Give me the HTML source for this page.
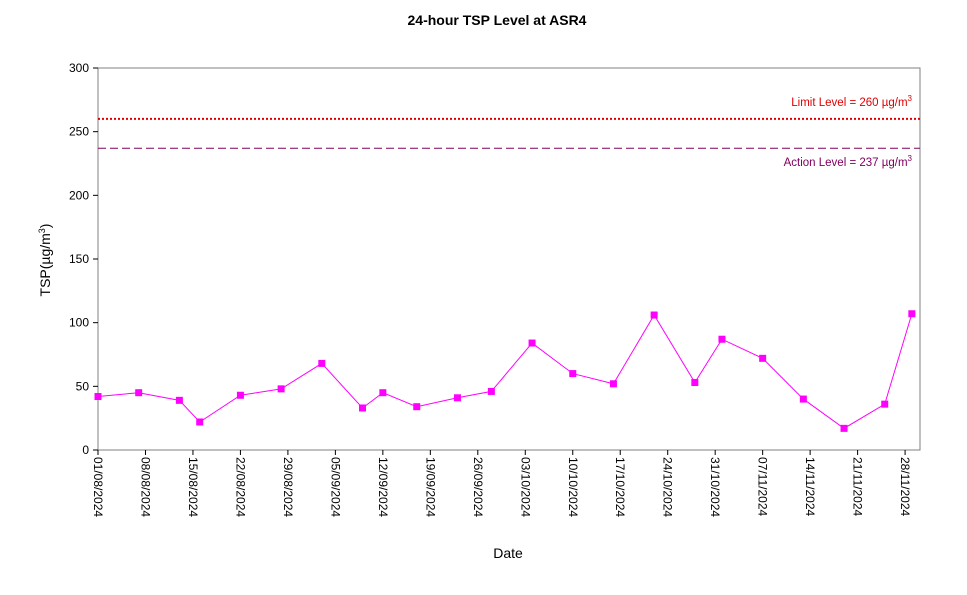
<!DOCTYPE html>
<html><head><meta charset="utf-8"><style>
body{margin:0;background:#fff;font-family:"Liberation Sans",Arial,sans-serif}
svg text{font-family:"Liberation Sans",Arial,sans-serif}
</style></head><body>
<svg id="chart" width="967" height="590" xmlns="http://www.w3.org/2000/svg">
<rect width="967" height="590" fill="#fff"/>
<text x="497" y="25" text-anchor="middle" font-size="14" font-weight="bold">24-hour TSP Level at ASR4</text>
<rect x="98" y="68" width="822" height="382" fill="none" stroke="#808080" stroke-width="1"/>
<g id="yaxis"></g>
<g id="xaxis"></g>
<text transform="translate(50,260) rotate(-90)" text-anchor="middle" font-size="14">TSP(µg/m<tspan font-size="9" dy="-5">3</tspan><tspan dy="5">)</tspan></text>
<text x="508" y="558" text-anchor="middle" font-size="14">Date</text>
<g id="refs"></g>
<g id="series"></g>
</svg>
<script>
const yTicks=[0,50,100,150,200,250,300];
const xTickLabels=["01/08/2024","08/08/2024","15/08/2024","22/08/2024","29/08/2024","05/09/2024","12/09/2024","19/09/2024","26/09/2024","03/10/2024","10/10/2024","17/10/2024","24/10/2024","31/10/2024","07/11/2024","14/11/2024","21/11/2024","28/11/2024"];
const sampleDays=[0,6,12,15,21,27,33,39,42,47,53,58,64,70,76,82,88,92,98,104,110,116,120];
const tspValues=[42,45,39,22,43,48,68,33,45,34,41,46,84,60,52,106,53,87,72,40,17,36,107];
const limitLevel=260, actionLevel=237;
const NS="http://www.w3.org/2000/svg";
const X0=98,X1=920,Y0=450,Y1=68,DMAX=121.2,VMAX=300;
const xs=d=>X0+(d/DMAX)*(X1-X0);
const ys=v=>Y0-(v/VMAX)*(Y0-Y1);
function mk(t,a,p){const e=document.createElementNS(NS,t);for(const k in a)e.setAttribute(k,a[k]);p.appendChild(e);return e;}
const ya=document.getElementById('yaxis');
yTicks.forEach(v=>{const y=ys(v);
const l=mk('line',{x1:X0-5,x2:X0,y1:y,y2:y,stroke:'#000'},ya);


const t=mk('text',{x:X0-9,y:y+4,'text-anchor':'end','font-size':12},ya);t.textContent=v;

});
const xa=document.getElementById('xaxis');
xTickLabels.forEach((s,i)=>{const x=xs(i*7);
const l=mk('line',{x1:x,x2:x,y1:Y0,y2:Y0+5,stroke:'#000'},xa);


const t=mk('text',{transform:`translate(${x-4},${Y0+7}) rotate(90)`,'font-size':12},xa);t.textContent=s;

});
const r=document.getElementById('refs');
const ll=mk('line',{x1:X0,x2:X1,y1:ys(limitLevel),y2:ys(limitLevel),stroke:'#e00000','stroke-width':2,'stroke-dasharray':'2,2'},r);


const al=mk('line',{x1:X0,x2:X1,y1:ys(actionLevel),y2:ys(actionLevel),stroke:'#800060','stroke-width':1,'stroke-dasharray':'8,4'},r);


const lt=mk('text',{x:912,y:ys(limitLevel)-13,'text-anchor':'end','font-size':11.5,fill:'#e00000'},r);
lt.innerHTML='Limit Level  = '+limitLevel+' µg/m<tspan font-size="8" dy="-5">3</tspan>';


const at=mk('text',{x:912,y:ys(actionLevel)+18,'text-anchor':'end','font-size':11.5,fill:'#800060'},r);
at.innerHTML='Action Level  = '+actionLevel+' µg/m<tspan font-size="8" dy="-5">3</tspan>';


const sg=document.getElementById('series');
const pts=sampleDays.map((d,i)=>xs(d)+','+ys(tspValues[i])).join(' ');
const pl=mk('polyline',{points:pts,fill:'none',stroke:'#ff00ff','stroke-width':1},sg);


sampleDays.forEach((d,i)=>{const m=mk('rect',{x:xs(d)-3.5,y:ys(tspValues[i])-3.5,width:7,height:7,fill:'#ff00ff'},sg);

});
</script>
</body></html>
